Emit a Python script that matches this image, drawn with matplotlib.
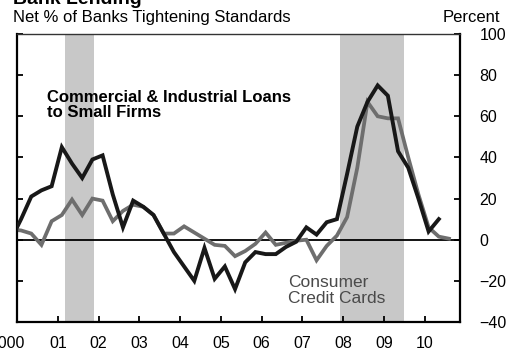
import numpy as np
import matplotlib
matplotlib.use("Agg")
import matplotlib.pyplot as plt

plt.rcParams["font.family"] = ["Liberation Sans", "DejaVu Sans"]

# Quarterly survey readings, net % of banks tightening (first point is 1999Q4)
ci_small_firms = [0, 10, 21, 24, 26, 45, 37, 30, 39, 41, 22, 6, 19, 16, 12, 3,
                  -6, -13, -20, -4, -19, -13, -24, -11, -6, -7, -7, -3.5, -1,
                  6, 2.5, 8.5, 10, 32, 55, 67, 75, 70, 43, 35, 20, 4, 10]
credit_cards = [5, 4.5, 3, -2.5, 9, 12, 19.5, 12, 20, 19, 9, 14, 17, 16, 12, 3,
                3, 6.5, 3.5, 0.5, -2.5, -3, -8, -5.5, -2, 3.5, -2.5, -1.5, -0.5,
                0, -10, -3, 2, 11, 35, 67, 60, 59, 59, 40, 22, 6, 1.5, 0.5]

recessions = [(2001.17, 2001.9), (2007.92, 2009.5)]
years = list(range(2000, 2011))
year_labels = ["2000"] + [f"{y % 100:02d}" for y in years[1:]]
y_ticks = list(range(-40, 101, 20))

t_ci = 1999.85 + 0.25 * np.arange(len(ci_small_firms))
t_cc = 1999.85 + 0.25 * np.arange(len(credit_cards))

fig = plt.figure(figsize=(5.18, 3.58), dpi=100)
ax = fig.add_axes([17 / 518, 1 - 322 / 358, 443 / 518, 288 / 358])

for start, end in recessions:
    ax.axvspan(start, end, color="#c8c8c8", lw=0, zorder=0)

ax.axhline(0, color="black", lw=1.3, zorder=1)
ax.plot(t_cc, credit_cards, color="#6e6e6e", lw=2.7, zorder=2,
        solid_joinstyle="miter")
ax.plot(t_ci, ci_small_firms, color="#181818", lw=2.8, zorder=3,
        solid_joinstyle="miter")

ax.set_xlim(2000, 2010.87)
ax.set_ylim(-40, 100)
ax.set_xticks(years)
ax.set_xticklabels([])
ax.set_yticks(y_ticks)
ax.tick_params(axis="x", direction="in", length=4, width=1.3, bottom=True, top=False)
ax.tick_params(axis="y", direction="in", length=4, width=1.3, left=True, right=True,
               labelleft=False, labelright=True, labelsize=11.5, pad=14)
for side in ["left", "right", "bottom"]:
    ax.spines[side].set_linewidth(1.6)
ax.spines["top"].set_linewidth(1.0)
ax.spines["top"].set_color("#333333")

# Year labels drawn under the ticks; the first one sits a bit further left
for yr, lab in zip(years, year_labels):
    xpos = yr - 0.25 if yr == 2000 else yr
    ax.text(xpos, -0.075, lab, transform=ax.get_xaxis_transform(),
            ha="center", va="center", fontsize=11.5)

ax.text(2000.73, 73, "Commercial & Industrial Loans\nto Small Firms",
        fontsize=12, fontweight="bold", va="top", ha="left", linespacing=1.0)
ax.text(2006.65, -17, "Consumer\nCredit Cards", fontsize=12.5, color="#4a4a4a",
        va="top", ha="left", linespacing=1.1)

fig.text(13 / 518, 1 - 4 / 358, "Bank Lending", fontsize=14, fontweight="bold",
         va="baseline", ha="left")
fig.text(13 / 518, 1 - 22 / 358, "Net % of Banks Tightening Standards",
         fontsize=12, va="baseline", ha="left")
fig.text(500 / 518, 1 - 22 / 358, "Percent", fontsize=12, va="baseline", ha="right")

fig.savefig("out.png", dpi=100)
